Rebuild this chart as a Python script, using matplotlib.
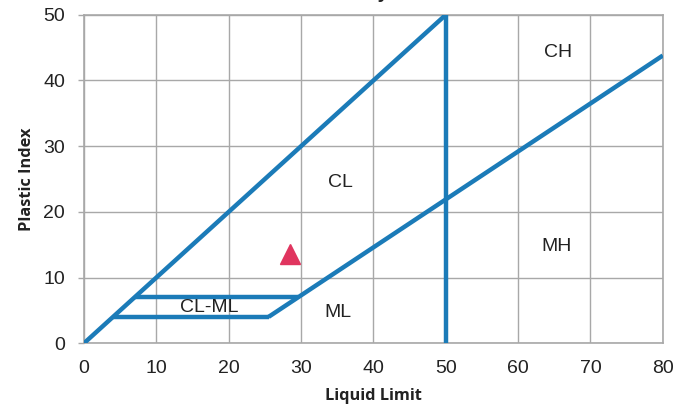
import matplotlib
matplotlib.use("Agg")
import matplotlib.pyplot as plt

# Boundary lines (Liquid Limit, Plastic Index)
u_line_x = [0, 50]
u_line_y = [0, 50]
ll50_x = [50, 50]
ll50_y = [0, 50]
a_line_x = [25.5, 80]
a_line_y = [4, 43.8]
clml_top_x = [7, 29.6]
clml_top_y = [7, 7]
clml_bot_x = [4, 25.5]
clml_bot_y = [4, 4]

sample_ll = [28.4]
sample_pi = [13.6]

regions = ["CH", "CL", "MH", "ML", "CL-ML"]
region_x = [65.5, 35.4, 65.3, 35.1, 17.3]
region_y = [44.3, 24.4, 14.7, 4.6, 5.4]

xticks = [0, 10, 20, 30, 40, 50, 60, 70, 80]
yticks = [0, 10, 20, 30, 40, 50]

fig = plt.figure(figsize=(6.89, 4.11), dpi=100)
ax = fig.add_axes([0.122, 0.165, 0.840, 0.799])

blue = "#1b7bb8"
lw = 3.2
for xs, ys in [(u_line_x, u_line_y), (ll50_x, ll50_y), (a_line_x, a_line_y),
               (clml_top_x, clml_top_y), (clml_bot_x, clml_bot_y)]:
    ax.plot(xs, ys, color=blue, lw=lw, solid_capstyle="butt", zorder=3)

ax.plot(sample_ll, sample_pi, marker="^", color="#e0355f", markersize=15,
        linestyle="none", zorder=4)

for name, x, y in zip(regions, region_x, region_y):
    ax.text(x, y, name, ha="center", va="center", fontsize=14,
            family="Liberation Sans", color="#222222", zorder=5)

ax.set_xlim(0, 80)
ax.set_ylim(0, 50)
ax.set_xticks(xticks)
ax.set_yticks(yticks)
ax.grid(True, color="#a8a8a8", lw=1.0)
ax.set_axisbelow(True)
for s in ax.spines.values():
    s.set_color("#a8a8a8")
    s.set_linewidth(1.2)
ax.tick_params(axis="x", length=0, pad=12, labelsize=14, labelcolor="#222222")
ax.tick_params(axis="y", length=4.3, width=1, color="#a8a8a8", pad=9.4,
               labelsize=14, labelcolor="#222222")
for lab in ax.get_xticklabels() + ax.get_yticklabels():
    lab.set_family("Liberation Sans")

ax.set_xlabel("Liquid Limit", fontsize=11.8, fontweight="bold",
              family="Open Sans", color="#222222", labelpad=8)
ax.set_ylabel("Plastic Index", fontsize=11.8, fontweight="bold",
              family="Open Sans", color="#222222", labelpad=6)

fig.text(0.542, 1.0 + 2 / 411, "Plasticity Chart", ha="center", va="baseline",
         fontsize=14, fontweight="bold", family="Liberation Sans", color="#222222")

fig.savefig("out.png", dpi=100)
